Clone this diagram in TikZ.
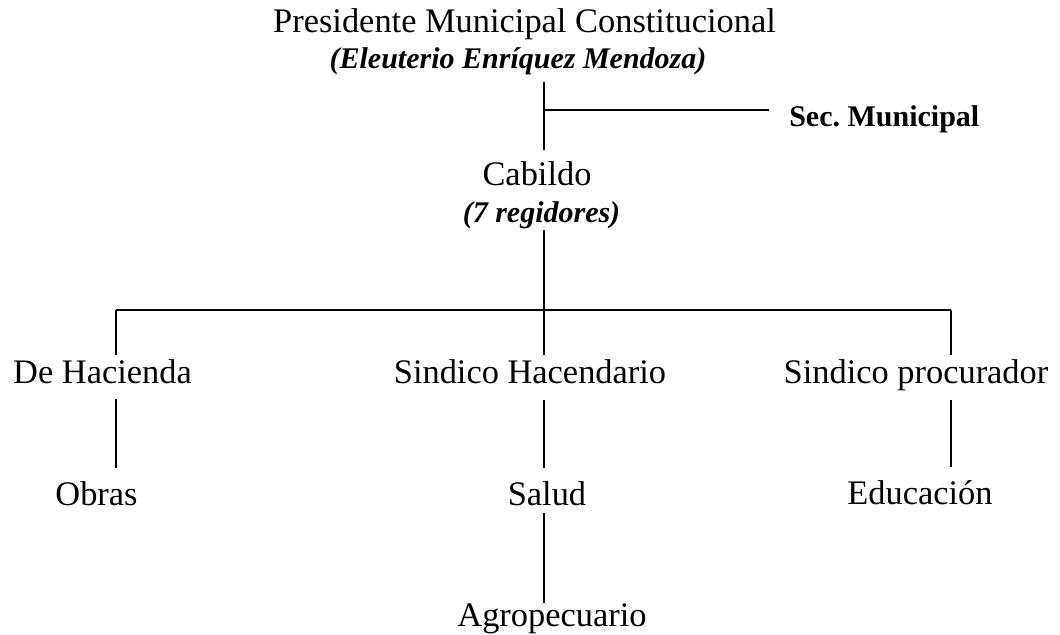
\documentclass[tikz,border=0pt]{standalone}
\usepackage{fontspec}
\setmainfont{Liberation Serif}

\tikzset{
  post/.style={inner sep=0pt, anchor=base, font=\fontsize{25.8}{30}\selectfont},
  note/.style={post, font=\fontsize{22.5}{26}\selectfont\bfseries\itshape},
  link/.style={line width=1pt}
}

\begin{document}
\begin{tikzpicture}[x=0.75pt,y=-0.75pt]
        \useasboundingbox (0,0) rectangle (1060,635);

        \node[post] (pres) at (524.5,33) {Presidente Municipal Constitucional};
        \node[note] (name) at (518,69) {(Eleuterio Enríquez Mendoza)};
        \node[note, font=\fontsize{22.5}{26}\selectfont\bfseries, anchor=base west] (sec) at (789,126) {Sec.\ Municipal};
        \node[post] (cab) at (537,185) {Cabildo};
        \node[note] (reg) at (541.5,222) {(7 regidores)};

        \node[post] (hac) at (102.5,383) {De Hacienda};
        \node[post] (sh) at (530,383) {Sindico Hacendario};
        \node[post] (sp) at (916,383) {Sindico procurador};

        \node[post] (obr) at (96.5,505) {Obras};
        \node[post] (sal) at (547,505) {Salud};
        \node[post] (edu) at (920,504) {Educación};
        \node[post] (agr) at (552,626) {Agropecuario};

        % line ends
        \coordinate (a1) at (544,82);
        \coordinate (a2) at (544,150);
        \coordinate (s1) at (544,110);
        \coordinate (s2) at (769,110);
        \coordinate (b1) at (544,230);
        \coordinate (bar) at (544,310);
        \coordinate (l1) at (116,310);
        \coordinate (r1) at (951,310);
        \coordinate (l3) at (116,355);
        \coordinate (m3) at (544,355);
        \coordinate (r3) at (951,355);
        \coordinate (l4) at (116,399);
        \coordinate (l5) at (116,468);
        \coordinate (m4) at (544,400);
        \coordinate (m5) at (544,468);
        \coordinate (r4) at (951,400);
        \coordinate (r5) at (951,467);
        \coordinate (m6) at (544,513);
        \coordinate (m7) at (544,603);

        \draw[link] (a1) -- (a2);
        \draw[link] (s1) -- (s2);
        \draw[link] (b1) -- (bar);
        \draw[link] (l1) -- (r1);
        \draw[link] (l1) -- (l3);
        \draw[link] (bar) -- (m3);
        \draw[link] (r1) -- (r3);

        \draw[link] (l4) -- (l5);
        \draw[link] (m4) -- (m5);
        \draw[link] (r4) -- (r5);
        \draw[link] (m6) -- (m7);
      \end{tikzpicture}
\end{document}
